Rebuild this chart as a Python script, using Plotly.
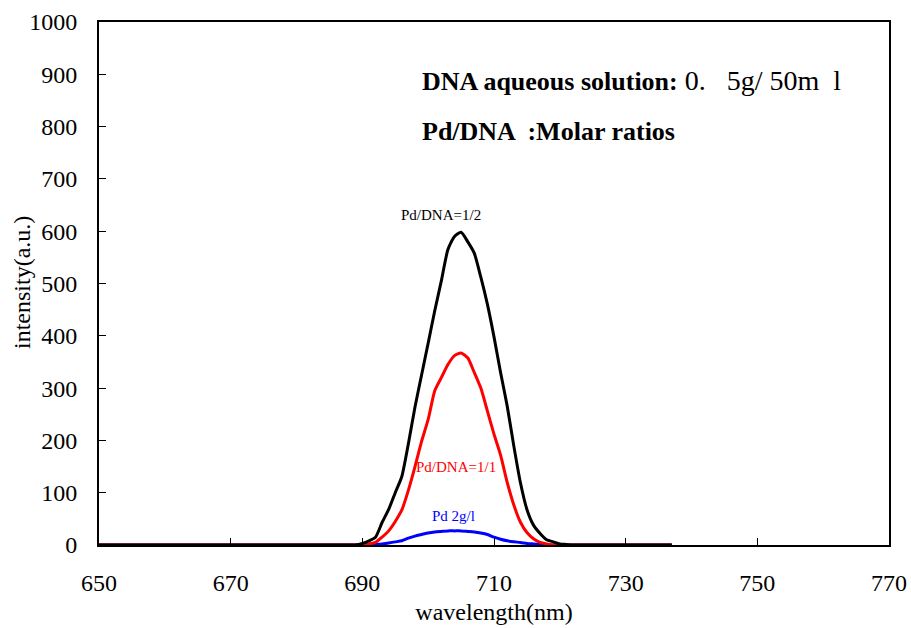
import plotly.graph_objects as go

wavelength = [650, 660, 670, 680, 686, 688, 689, 690, 691, 692, 693, 694, 695, 696, 697, 698, 699,
              700, 701, 702, 703, 704, 705, 706, 707, 708, 709, 710, 711, 712, 713, 714,
              715, 716, 717, 718, 719, 720, 721, 722, 725, 730, 737]

pd_dna_1_2 = [0, 0, 0, 0, 0, 0, 0, 3, 8, 15, 43, 68, 100, 131, 194, 264, 325,
              386, 448, 505, 565, 590, 598, 580, 558, 512, 460, 398, 330, 266, 190, 120,
              68, 38, 22, 10, 6, 2, 1, 0, 0, 0, 0]

pd_dna_1_1 = [0, 0, 0, 0, 0, 0, 0, 0, 2, 5, 15, 27, 45, 67, 105, 150, 198,
              240, 295, 320, 345, 362, 367, 358, 330, 300, 256, 212, 172, 120, 77, 44,
              24, 12, 5, 2, 0, 0, 0, 0, 0, 0, 0]

pd_2gl = [0, 0, 0, 0, 0, 0, 0, 0, 0, 1, 2, 4, 6, 8, 13, 17, 20,
          23, 25, 26, 27, 27, 27, 26, 25, 23, 20, 15, 11, 8, 6, 5,
          3, 2, 1, 0, 0, 0, 0, 0, 0, 0, 0]

x_ticks = [650, 670, 690, 710, 730, 750, 770]
y_ticks = [0, 100, 200, 300, 400, 500, 600, 700, 800, 900, 1000]

SERIF = "Liberation Serif, Times New Roman, serif"

fig = go.Figure()
fig.add_trace(go.Scatter(x=wavelength, y=pd_2gl, mode="lines",
                         line=dict(color="#0000ff", width=3, shape="spline", smoothing=0.6),
                         name="Pd 2g/l"))
fig.add_trace(go.Scatter(x=wavelength, y=pd_dna_1_1, mode="lines",
                         line=dict(color="#ff0000", width=3, shape="spline", smoothing=0.6),
                         name="Pd/DNA=1/1"))
fig.add_trace(go.Scatter(x=wavelength, y=pd_dna_1_2, mode="lines",
                         line=dict(color="#000000", width=3, shape="spline", smoothing=0.6),
                         name="Pd/DNA=1/2"))

fig.update_layout(
    width=911, height=628,
    margin=dict(l=99, r=22, t=22, b=83),
    paper_bgcolor="white", plot_bgcolor="white",
    showlegend=False,
    font=dict(family=SERIF, color="black", size=24),
    xaxis=dict(range=[650, 770], tickvals=x_ticks, ticktext=[str(v) for v in x_ticks],
               ticks="inside", ticklen=7, tickwidth=1, tickcolor="black",
               showgrid=False, zeroline=False, showline=True, linecolor="black",
               linewidth=2, mirror=True, automargin=False, ticklabelstandoff=15,
               tickfont=dict(family=SERIF, size=24),
               title=dict(text="wavelength(nm)", font=dict(family=SERIF, size=24), standoff=8)),
    yaxis=dict(range=[0, 1000], tickvals=y_ticks, ticktext=[str(v) for v in y_ticks],
               ticks="inside", ticklen=7, tickwidth=1, tickcolor="black",
               showgrid=False, zeroline=False, showline=True, linecolor="black",
               linewidth=2, mirror=True, automargin=False, ticklabelstandoff=15,
               tickfont=dict(family=SERIF, size=24)),
)

fig.add_annotation(xref="paper", yref="paper", x=(22 - 99) / 790, y=(545 - 283) / 523,
                   xanchor="center", yanchor="middle", textangle=-90, showarrow=False,
                   text="intensity(a.u.)", font=dict(family=SERIF, size=24, color="black"))

fig.add_annotation(x=702, y=631, text="Pd/DNA=1/2", showarrow=False, yanchor="middle",
                   font=dict(family=SERIF, size=15, color="black"))
fig.add_annotation(x=704.2, y=149, text="Pd/DNA=1/1", showarrow=False, yanchor="middle",
                   font=dict(family=SERIF, size=15, color="#ff0000"))
fig.add_annotation(x=703.8, y=55, text="Pd 2g/l", showarrow=False, yanchor="middle",
                   font=dict(family=SERIF, size=15, color="#0000ff"))

fig.add_annotation(xref="paper", yref="paper", x=(420 - 99) / 790, y=(545 - 80) / 523,
                   xanchor="left", yanchor="middle", showarrow=False,
                   text="<b>DNA aqueous solution:</b><span style='font-size:28px'> 0.&nbsp;&nbsp;&nbsp;5g/&nbsp;50m&nbsp;&nbsp;l</span>",
                   font=dict(family=SERIF, size=26, color="black"))
fig.add_annotation(xref="paper", yref="paper", x=(420 - 99) / 790, y=(545 - 131) / 523,
                   xanchor="left", yanchor="middle", showarrow=False,
                   text="<b>Pd/DNA  :Molar ratios</b>",
                   font=dict(family=SERIF, size=26, color="black"))

fig.write_html("out.html", config={"displayModeBar": False},
               post_script="document.body.style.margin='0';document.body.style.overflow='hidden';")
